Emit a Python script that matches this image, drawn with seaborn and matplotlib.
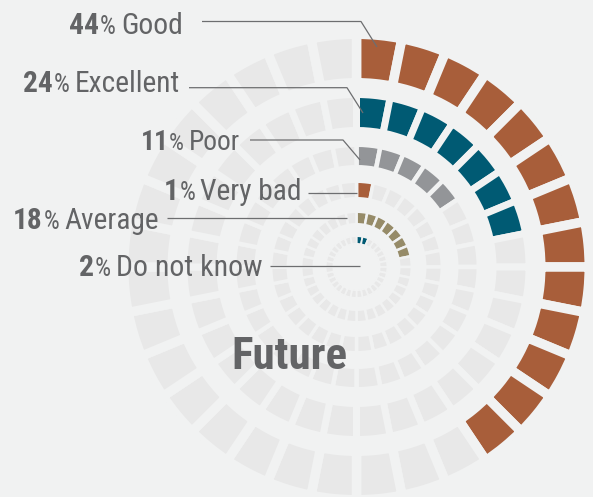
import numpy as np
import matplotlib
matplotlib.use('Agg')
import matplotlib.pyplot as plt
import seaborn as sns
from matplotlib import font_manager

# ----- data (rings from outside to inside) -----
categories = ['Good', 'Excellent', 'Poor', 'Very bad', 'Average', 'Do not know']
percents = [44, 24, 11, 1, 18, 2]
filled_segments = [13, 7, 5, 1, 7, 2]
segments_per_ring = 32
title = 'Future'

# ----- style -----
BG = '#F1F2F2'
EMPTY = '#E8E8E8'
TXT = '#636466'
LINE = '#6D6E70'
ring_colors = sns.color_palette(['#A85E3A', '#005A73', '#939598',
                                 '#A85E3A', '#968B68', '#005A73'])

sns.set_style('white', {'axes.facecolor': BG, 'figure.facecolor': BG})


def pick_font():
    """Prefer a condensed sans family; fall back to the narrowest plain one."""
    fl = font_manager.fontManager.ttflist
    for pref in ['Roboto Condensed', 'Liberation Sans Narrow', 'Noto Sans Condensed',
                 'Open Sans Condensed', 'Noto Sans SemiCondensed', 'Open Sans SemiCondensed']:
        if any(f.name == pref for f in fl):
            return pref, 'normal'
    for fam in ['Noto Sans', 'DejaVu Sans', 'Open Sans', 'Roboto']:
        if any(f.name == fam and 'condensed' in str(f.stretch) for f in fl):
            return fam, 'condensed'
    for fam in ['Roboto', 'Liberation Sans']:
        if any(f.name == fam for f in fl):
            return fam, 'normal'
    return 'DejaVu Sans', 'normal'


FONT, STRETCH = pick_font()

# ----- layout (pixels in the 593x497 picture) -----
W, H = 593, 497
CX, CY = 356.5, 267
RMAX = 234
ring_outer = [228, 169, 120, 84, 54, 30]
ring_inner = [189, 140, 102, 70, 44, 24]
ring_gap = [9.5, 7, 4.5, 3.5, 2.5, 1.8]

# label left edge, right edge, baseline; leader line paths
label_box = [(69, 183, 34), (23, 180, 92), (140, 240, 150),
             (163, 302, 200), (13, 159, 229), (79, 263, 276)]
leaders = [
    [(202, 21.5), (361, 21.5), (377, 47)],
    [(189, 87.7), (347, 87.7), (363, 113)],
    [(250, 140), (343, 140), (360, 160)],
    [(308, 193.3), (357, 193.3)],
    [(167, 217.7), (347, 217.7)],
    [(270, 265.7), (360, 265.7)],
]
title_box = (231, 347, 369)

fig = plt.figure(figsize=(W / 100, H / 100), dpi=100, facecolor=BG)

# ----- rings of segments in a polar axes -----
pax = fig.add_axes([(CX - RMAX) / W, (H - CY - RMAX) / H, 2 * RMAX / W, 2 * RMAX / H],
                   projection='polar')
pax.set_theta_zero_location('N')
pax.set_theta_direction(-1)
pax.set_ylim(0, RMAX)
pax.set_axis_off()

step = 2 * np.pi / segments_per_ring
theta = np.arange(segments_per_ring) * step
for i in range(len(categories)):
    cols = [ring_colors[i] if k < filled_segments[i] else EMPTY
            for k in range(segments_per_ring)]
    g = ring_gap[i]
    pax.bar(theta, ring_outer[i] - ring_inner[i] + g, width=step,
            bottom=ring_inner[i] - g / 2, align='edge', color=cols,
            edgecolor=BG, linewidth=g * 0.72)

# ----- overlay for labels and leader lines -----
tx = fig.add_axes([0, 0, 1, 1])
tx.set_xlim(0, W)
tx.set_ylim(H, 0)
tx.axis('off')
tx.patch.set_alpha(0)
renderer = fig.canvas.get_renderer()
kw = dict(va='baseline', family=FONT, stretch=STRETCH, color=TXT)


def draw_label(i, size):
    xl, xr, yb = label_box[i]
    t = tx.text(xr, yb, categories[i], ha='right', fontsize=size, **kw)
    x0 = t.get_window_extent(renderer).x0
    p = tx.text(x0 - size * 0.25, yb, '%', ha='right', fontsize=size * 0.85, **kw)
    x1 = p.get_window_extent(renderer).x0
    n = tx.text(x1 - 0.5, yb, str(percents[i]), ha='right', fontsize=size,
                weight='bold', **kw)
    return [t, p, n], n.get_window_extent(renderer).x0


for i in range(len(categories)):
    xl, xr, yb = label_box[i]
    objs, left = draw_label(i, 23)
    if xr - left > xr - xl + 1:
        size = 23 * (xr - xl) / (xr - left)
        for o in objs:
            o.remove()
        draw_label(i, size)
    xs, ys = zip(*leaders[i])
    tx.plot(xs, ys, color=LINE, lw=0.9, solid_capstyle='butt')

xl, xr, yb = title_box
ft = tx.text((xl + xr) / 2, yb, title, ha='center', fontsize=33, weight='bold', **kw)
bw = ft.get_window_extent(renderer).width
if bw > xr - xl + 1:
    ft.set_fontsize(33 * (xr - xl) / bw)

fig.savefig('out.png', dpi=100, facecolor=BG)
